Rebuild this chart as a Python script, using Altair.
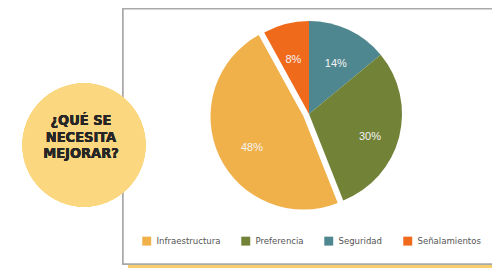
import math
import altair as alt
import pandas as pd

# Data (clockwise from 12 o'clock)
categorias = ["Seguridad", "Preferencia", "Infraestructura", "Señalamientos"]
porcentajes = [14, 30, 48, 8]
etiquetas = ["14%", "30%", "48%", "8%"]
orden_leyenda = ["Infraestructura", "Preferencia", "Seguridad", "Señalamientos"]
colores = ["#f0b04a", "#728237", "#4f8790", "#f06a1c"]
titulo = ["¿QUÉ SE", "NECESITA", "MEJORAR?"]
destacada = "Infraestructura"

df = pd.DataFrame({
    "categoria": categorias,
    "valor": porcentajes,
    "etiqueta": etiquetas,
    "orden": list(range(len(categorias))),
})

W, H = 484, 260
CX, CY = 301, 106   # pie centre (chart coords)
R = 93
FONT_N = "DejaVu Sans Condensed, Liberation Sans Narrow, sans-serif"

base = alt.Chart(df).transform_window(
    cum="sum(valor)", sort=[{"field": "orden"}]
).transform_calculate(
    start="datum.cum - datum.valor",
    mid="datum.cum - datum.valor / 2",
)

theta_scale = alt.Scale(domain=[0, 100], range=[0, 2 * math.pi])
color_enc = alt.Color(
    "categoria:N",
    scale=alt.Scale(domain=orden_leyenda, range=colores),
    sort=orden_leyenda,
    legend=alt.Legend(
        title=None, orient="none", legendX=134, legendY=228,
        direction="horizontal", symbolType="square", symbolSize=80,
        symbolStrokeWidth=0, labelFont=FONT_N, labelFontSize=9.5,
        labelColor="#555555", columnPadding=20, labelOffset=5,
    ),
)

# decorations: frame, yellow strip, yellow circle
strip = alt.Chart(df).mark_rect(color="#f7cf6a").encode(
    x=alt.value(120), x2=alt.value(500), y=alt.value(256), y2=alt.value(262)
)
frame = alt.Chart(df).mark_rect(fill="white", stroke="#a9a9a9", strokeWidth=1.5).encode(
    x=alt.value(115), x2=alt.value(520), y=alt.value(0.75), y2=alt.value(256)
)
circle = alt.Chart(df).mark_circle(color="#fbd77f", opacity=1, size=15200).encode(
    x=alt.value(76), y=alt.value(137)
)
title = alt.Chart(df).mark_text(
    font=FONT_N, fontWeight="bold", fontSize=14.5, lineHeight=16.5, color="#262626",
    align="center", baseline="middle",
).encode(x=alt.value(73), y=alt.value(113), text=alt.value(titulo))

pie_rest = base.transform_filter(f"datum.categoria != '{destacada}'").mark_arc(
    stroke=None
).encode(
    theta=alt.Theta("start:Q", scale=theta_scale, stack=None),
    theta2="cum:Q",
    color=color_enc,
    x=alt.value(CX), y=alt.value(CY), radius=alt.value(R),
)
pie_exp = base.transform_filter(f"datum.categoria == '{destacada}'").mark_arc(
    stroke=None, xOffset=-5.5, yOffset=2.6
).encode(
    theta=alt.Theta("start:Q", scale=theta_scale, stack=None),
    theta2="cum:Q",
    color=color_enc,
    x=alt.value(CX), y=alt.value(CY), radius=alt.value(R),
)
labels = base.mark_text(
    font="Arial, Liberation Sans, sans-serif", fontSize=11, color="#f4f4f4",
    align="center", baseline="middle", yOffset=7,
).encode(
    theta=alt.Theta("mid:Q", scale=theta_scale, stack=None),
    text="etiqueta:N",
    x=alt.value(CX), y=alt.value(CY), radius=alt.value(63),
)

chart = alt.layer(strip, frame, circle, title, pie_rest, pie_exp, labels).properties(
    width=W, height=H, padding=0, autosize=alt.AutoSizeParams(type="none"),
    background="white",
).configure_view(stroke=None)

chart.save("out.html", embed_options={"renderer": "svg", "actions": False})
